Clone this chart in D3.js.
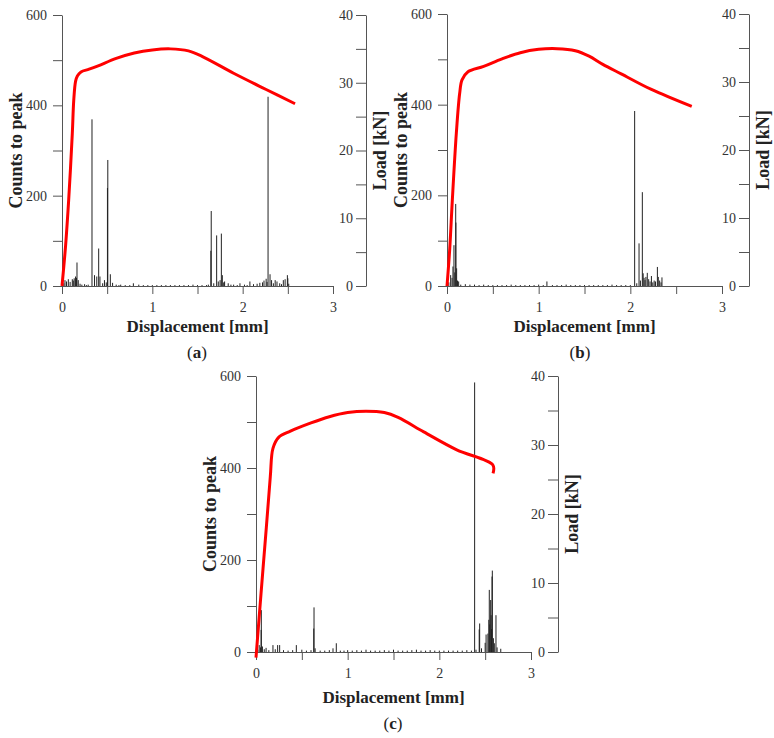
<!DOCTYPE html>
<html>
<head>
<meta charset="utf-8">
<script src="https://cdn.jsdelivr.net/npm/d3@7/dist/d3.min.js"></script>
<style>
body{margin:0;background:#fff}
</style>
</head>
<body>
<script>
var width=774,
	height=738;

// axis ticks
var dispTicks=[0,0.5,1,1.5,2,2.5,3],
	countTicks=[0,100,200,300,400,500,600],
	loadTicks=[0,5,10,15,20,25,30,35,40];

// load curves (displacement mm, load kN)
var loadDispA=[0,0.04,0.074,0.114,0.13,0.15,0.17,0.21,0.3,0.4,0.6,0.8,1.0,1.2,1.4,1.55,1.9,2.26,2.58],
	loadKnA=[0,6,12.7,22.5,27.4,30.2,31,31.6,32,32.5,33.6,34.4,34.85,35,34.7,33.9,31.4,29,26.9];
var loadDispB=[0,0.03,0.058,0.102,0.138,0.164,0.229,0.4,0.6,0.8,1.0,1.2,1.4,1.55,1.7,1.9,2.23,2.67],
	loadKnB=[0,5.5,12.6,22.5,28.3,30.3,31.5,32.3,33.4,34.3,34.8,34.9,34.6,33.8,32.6,31.2,28.9,26.4];
var loadDispC=[0,0.055,0.113,0.156,0.185,0.247,0.375,0.6,0.8,1.0,1.2,1.4,1.55,1.83,2.19,2.584,2.586],
	loadKnC=[-0.8,8.5,18.1,25.4,29.5,31.1,32,33.2,34.1,34.7,34.9,34.7,34,31.9,29.3,27.1,25.9];

// AE hits: [displacement mm, counts to peak]
var spikesA=[[0.02,6],[0.033,13],[0.05,10],[0.07,15],[0.09,9],[0.114,15],[0.125,12],[0.135,17],[0.15,21],[0.16,18],[0.166,52],[0.18,13],[0.2,5],[0.22,3],[0.25,4],[0.27,2],[0.29,3],
	[0.332,369],[0.36,24],[0.385,21],[0.406,83],[0.42,21],[0.45,6],[0.47,13],[0.49,8],[0.503,217],[0.507,279],[0.535,26],[0.56,7],[0.6,3],[0.63,2],[0.65,3],[0.7,2],[0.75,2],[0.79,6],[0.85,3],
	[0.9,2],[0.95,2],[1.0,2],[1.05,2],[1.1,2],[1.15,2],[1.2,2],[1.25,2],[1.3,2],[1.35,2],[1.4,2],[1.45,3],[1.5,2],[1.55,2],[1.6,2],[1.62,3],[1.648,78],[1.652,166],[1.68,6],[1.712,112],[1.73,10],[1.75,13],[1.764,116],[1.775,24],[1.79,8],[1.8,10],
	[1.84,6],[1.87,3],[1.9,3],[1.94,2],[1.97,6],[2.02,3],[2.05,2],[2.08,10],[2.12,4],[2.16,5],[2.19,7],[2.22,8],[2.236,12],[2.26,16],[2.27,9],[2.281,419],[2.303,26],[2.32,13],[2.34,6],[2.36,13],
	[2.38,10],[2.41,6],[2.43,4],[2.45,13],[2.47,15],[2.495,24],[2.5,17],[2.51,5]];
var spikesB=[[0.02,8],[0.04,24],[0.055,18],[0.065,43],[0.076,90],[0.085,30],[0.095,181],[0.097,140],[0.105,39],[0.115,12],[0.127,10],[0.15,3],[0.2,4],[0.25,3],[0.3,3],
	[0.35,2],[0.4,3],[0.45,2],[0.5,2],[0.55,2],[0.6,2],[0.65,2],[0.7,3],[0.75,2],[0.8,2],[0.85,2],[0.9,2],[0.95,2],[1.0,3],[1.05,2],[1.09,10],[1.15,2],[1.2,2],[1.25,2],[1.3,3],[1.35,2],[1.4,2],[1.45,2],[1.5,2],[1.55,2],[1.6,2],[1.65,2],[1.7,2],[1.75,2],[1.8,3],[1.85,2],[1.9,2],[1.95,2],[2.0,2],
	[2.047,386],[2.07,6],[2.095,94],[2.11,12],[2.131,207],[2.14,28],[2.15,18],[2.16,13],[2.17,20],[2.185,29],[2.2,15],[2.215,10],[2.23,22],[2.245,8],[2.26,12],
	[2.275,10],[2.295,42],[2.305,20],[2.32,12],[2.335,8],[2.345,19]];
var spikesC=[[0.02,5],[0.035,15],[0.05,10],[0.056,48],[0.058,91],[0.07,12],[0.09,6],[0.11,9],[0.14,4],[0.185,15],[0.21,6],[0.236,15],[0.258,15],[0.3,4],[0.35,3],
	[0.4,4],[0.44,15],[0.5,5],[0.55,3],[0.6,4],[0.63,51],[0.633,97],[0.645,8],[0.7,3],[0.75,3],[0.8,4],[0.84,8],[0.876,19],[0.92,3],[0.96,3],[1.0,4],[1.05,3],[1.1,4],
	[1.15,3],[1.2,5],[1.25,3],[1.3,3],[1.35,3],[1.4,4],[1.45,3],[1.5,5],[1.55,3],[1.6,3],[1.65,3],[1.7,4],[1.75,5],[1.8,3],[1.85,3],[1.9,4],[1.95,3],[2.0,3],[2.05,3],[2.1,3],[2.15,3],[2.2,3],[2.25,3],[2.3,4],[2.35,3],[2.385,586],[2.4,5],[2.435,49],[2.44,62],
	[2.46,8],[2.5,20],[2.51,38],[2.53,40],[2.54,70],[2.545,135],[2.55,60],[2.56,113],[2.565,80],[2.57,50],[2.575,164],[2.578,177],[2.59,30],[2.6,19],[2.618,80],
	[2.63,10],[2.67,7]];

// panel placement
var panels=[
	{label:"a",x0:62,x1:333,rx:366,y0:15,y1:286,spikes:spikesA,ld:loadDispA,lk:loadKnA,tt:46,cap:[197,352]},
	{label:"b",x0:447,x1:722,rx:749,y0:14,y1:286,spikes:spikesB,ld:loadDispB,lk:loadKnB,tt:46,cap:[580,352]},
	{label:"c",x0:256,x1:531,rx:558,y0:376,y1:652,spikes:spikesC,ld:loadDispC,lk:loadKnC,tt:51,cap:[393,723]}
];

var font="'Liberation Serif', 'DejaVu Serif', serif";

function init(){
	var svg=d3.select("body").append("svg").attr("width",width).attr("height",height)
		.style("font-family",font)

	panels.forEach(function(p){
		var g=svg.append("g")
		var x=d3.scaleLinear().domain([0,3]).range([p.x0,p.x1]),
			y=d3.scaleLinear().domain([0,600]).range([p.y1,p.y0]),
			yl=d3.scaleLinear().domain([0,40]).range([p.y1,p.y0]);

		// spikes
		g.append("g").selectAll("line").data(p.spikes).enter().append("line")
			.attr("x1",(d)=>x(d[0])).attr("x2",(d)=>x(d[0]))
			.attr("y1",y(0)).attr("y2",(d)=>y(d[1]))
			.attr("stroke","#222").attr("stroke-width",1)

		// axes
		var ax=g.append("g").attr("transform","translate(0,"+p.y1+")")
			.call(d3.axisBottom(x).tickValues(dispTicks).tickSize(8).tickSizeOuter(0)
				.tickFormat((d)=>d%1===0?d:""))
		var ay=g.append("g").attr("transform","translate("+p.x0+",0)")
			.call(d3.axisLeft(y).tickValues(countTicks).tickSize(9).tickPadding(6).tickSizeOuter(0)
				.tickFormat((d)=>d%200===0?d:""))
		var ar=g.append("g").attr("transform","translate("+p.rx+",0)")
			.call(d3.axisLeft(yl).tickValues(loadTicks).tickSize(10).tickPadding(3).tickSizeOuter(0)
				.tickFormat((d)=>d%10===0?d:""))
		;[ax,ay,ar].forEach(function(a){
			a.selectAll("path,line").attr("stroke","#555")
			a.selectAll("text").attr("fill","#333").style("font-family",font).style("font-size","14px")
		})
		ax.selectAll("text").attr("dy","1.1em")

		// load curve
		var line=d3.line().x((d,i)=>x(p.ld[i])).y((d)=>yl(d)).curve(d3.curveCatmullRom.alpha(0.5))
		g.append("path").datum(p.lk).attr("d",line)
			.attr("fill","none").attr("stroke","#ff0000").attr("stroke-width",3).attr("stroke-linejoin","round")

		// titles
		g.append("text").attr("x",(p.x0+p.x1)/2).attr("y",p.y1+p.tt).attr("text-anchor","middle")
			.style("font-weight","bold").style("font-size","17px").attr("fill","#222").text("Displacement [mm]")
		g.append("text").attr("transform","translate("+(p.x0-40)+","+((p.y0+p.y1)/2)+") rotate(-90)")
			.attr("text-anchor","middle").style("font-weight","bold").style("font-size","18px").attr("fill","#222")
			.text("Counts to peak")
		g.append("text").attr("transform","translate("+(p.rx+20)+","+((p.y0+p.y1)/2)+") rotate(-90)")
			.attr("text-anchor","middle").style("font-weight","bold").style("font-size","18px").attr("fill","#222")
			.text("Load [kN]")

		var cap=g.append("text").attr("x",p.cap[0]).attr("y",p.cap[1]+6).attr("text-anchor","middle")
			.style("font-size","17px").attr("fill","#222")
		cap.append("tspan").text("(")
		cap.append("tspan").style("font-weight","bold").text(p.label)
		cap.append("tspan").text(")")
	})
}

init()
</script>
</body>
</html>
